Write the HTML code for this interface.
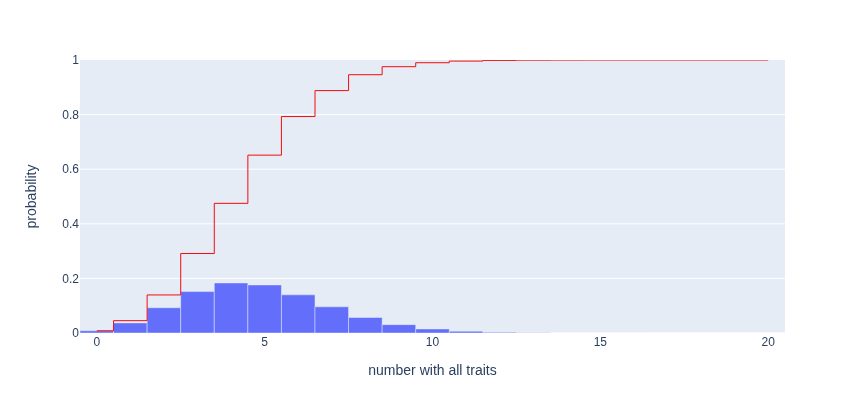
<!DOCTYPE html>
<html><head><meta charset="utf-8"><title>plot</title>
<style>html,body{margin:0;padding:0;background:#fff;overflow:hidden}svg{display:block}text{font-family:"Liberation Sans",Arial,sans-serif;fill:#2a3f5f}</style></head><body>
<svg width="865" height="413" viewBox="0 0 865 413">
<rect x="0" y="0" width="865" height="413" fill="#fff"/>
<rect x="80" y="60" width="705" height="273" fill="#E5ECF6"/>
<path d="M80,278.40H785" stroke="#fff" stroke-width="1" fill="none"/>
<path d="M80,223.80H785" stroke="#fff" stroke-width="1" fill="none"/>
<path d="M80,169.20H785" stroke="#fff" stroke-width="1" fill="none"/>
<path d="M80,114.60H785" stroke="#fff" stroke-width="1" fill="none"/>
<path d="M80,333.00H785" stroke="#fff" stroke-width="2" fill="none"/>
<clipPath id="c"><rect x="80" y="60" width="705" height="273"/></clipPath>
<g clip-path="url(#c)">
<path d="M80.00,333V330.75H113.57V333Z" fill="#636efa" stroke="#E5ECF6" stroke-width="0.5"/>
<path d="M113.57,333V322.90H147.14V333Z" fill="#636efa" stroke="#E5ECF6" stroke-width="0.5"/>
<path d="M147.14,333V307.75H180.71V333Z" fill="#636efa" stroke="#E5ECF6" stroke-width="0.5"/>
<path d="M180.71,333V291.59H214.29V333Z" fill="#636efa" stroke="#E5ECF6" stroke-width="0.5"/>
<path d="M214.29,333V282.96H247.86V333Z" fill="#636efa" stroke="#E5ECF6" stroke-width="0.5"/>
<path d="M247.86,333V284.95H281.43V333Z" fill="#636efa" stroke="#E5ECF6" stroke-width="0.5"/>
<path d="M281.43,333V294.84H315.00V333Z" fill="#636efa" stroke="#E5ECF6" stroke-width="0.5"/>
<path d="M315.00,333V306.83H348.57V333Z" fill="#636efa" stroke="#E5ECF6" stroke-width="0.5"/>
<path d="M348.57,333V317.49H382.14V333Z" fill="#636efa" stroke="#E5ECF6" stroke-width="0.5"/>
<path d="M382.14,333V324.63H415.71V333Z" fill="#636efa" stroke="#E5ECF6" stroke-width="0.5"/>
<path d="M415.71,333V328.98H449.29V333Z" fill="#636efa" stroke="#E5ECF6" stroke-width="0.5"/>
<path d="M449.29,333V331.25H482.86V333Z" fill="#636efa" stroke="#E5ECF6" stroke-width="0.5"/>
<path d="M482.86,333V332.30H516.43V333Z" fill="#636efa" stroke="#E5ECF6" stroke-width="0.5"/>
<path d="M516.43,333V332.74H550.00V333Z" fill="#636efa" stroke="#E5ECF6" stroke-width="0.5"/>
<path d="M550.00,333V332.91H583.57V333Z" fill="#636efa" stroke="#E5ECF6" stroke-width="0.5"/>
<path d="M583.57,333V332.97H617.14V333Z" fill="#636efa" stroke="#E5ECF6" stroke-width="0.5"/>
<path d="M617.14,333V332.99H650.71V333Z" fill="#636efa" stroke="#E5ECF6" stroke-width="0.5"/>
<path d="M650.71,333V333.00H684.29V333Z" fill="#636efa" stroke="#E5ECF6" stroke-width="0.5"/>
<path d="M684.29,333V333.00H717.86V333Z" fill="#636efa" stroke="#E5ECF6" stroke-width="0.5"/>
<path d="M717.86,333V333.00H751.43V333Z" fill="#636efa" stroke="#E5ECF6" stroke-width="0.5"/>
<path d="M751.43,333V333.00H785.00V333Z" fill="#636efa" stroke="#E5ECF6" stroke-width="0.5"/>
<path d="M96.79,330.75H113.57V320.66H147.14V294.94H180.71V253.53H214.29V203.33H247.86V155.14H281.43V116.54H315.00V90.60H348.57V74.71H382.14V66.69H415.71V62.73H449.29V61.09H482.86V60.39H516.43V60.13H550.00V60.04H583.57V60.01H617.14V60.00H650.71V60.00H684.29V60.00H717.86V60.00H751.43V60.00H768.21" stroke="#f20c0c" stroke-width="1" fill="none" stroke-linejoin="round"/>
</g>
<text x="96.79" y="346" font-size="12" text-anchor="middle">0</text>
<text x="264.64" y="346" font-size="12" text-anchor="middle">5</text>
<text x="432.50" y="346" font-size="12" text-anchor="middle">10</text>
<text x="600.36" y="346" font-size="12" text-anchor="middle">15</text>
<text x="768.21" y="346" font-size="12" text-anchor="middle">20</text>
<text x="79" y="337.20" font-size="12" text-anchor="end">0</text>
<text x="79" y="282.60" font-size="12" text-anchor="end">0.2</text>
<text x="79" y="228.00" font-size="12" text-anchor="end">0.4</text>
<text x="79" y="173.40" font-size="12" text-anchor="end">0.6</text>
<text x="79" y="118.80" font-size="12" text-anchor="end">0.8</text>
<text x="79" y="64.20" font-size="12" text-anchor="end">1</text>
<text x="432.5" y="374.5" font-size="14" text-anchor="middle">number with all traits</text>
<text transform="rotate(-90,35.7,196.5)" x="35.7" y="196.5" font-size="14" text-anchor="middle">probability</text>
</svg></body></html>
